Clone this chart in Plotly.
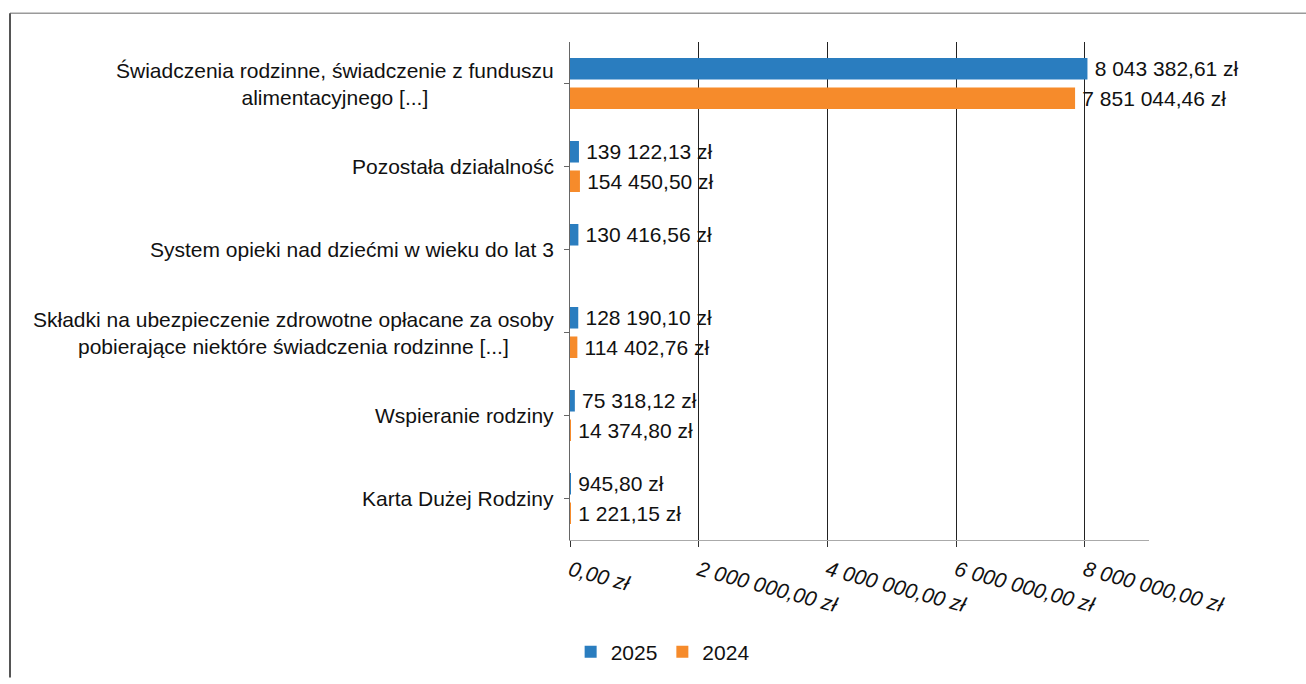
import plotly.graph_objects as go

# Kategorie wydatków (od góry) i kwoty w zł dla dwóch lat
categories = [
    "Świadczenia rodzinne, świadczenie z funduszu<br>alimentacyjnego [...]",
    "Pozostała działalność",
    "System opieki nad dziećmi w wieku do lat 3",
    "Składki na ubezpieczenie zdrowotne opłacane za osoby<br>pobierające niektóre świadczenia rodzinne [...]",
    "Wspieranie rodziny",
    "Karta Dużej Rodziny",
]
values_2025 = [8043382.61, 139122.13, 130416.56, 128190.10, 75318.12, 945.80]
values_2024 = [7851044.46, 154450.50, None, 114402.76, 14374.80, 1221.15]

tick_values = [0, 2000000, 4000000, 6000000, 8000000]
tick_labels = ["0,00 zł", "2 000 000,00 zł", "4 000 000,00 zł", "6 000 000,00 zł", "8 000 000,00 zł"]

FONT = "Liberation Sans, Arial, sans-serif"
FS = 21
BLUE = "#2a7dbf"
ORANGE = "#f68b2b"


def fmt_pln(v):
    if v is None:
        return ""
    s = f"{v:,.2f}".replace(",", " ").replace(".", ",")
    return "\u2009" + s + " zł"


cat_ids = list(range(len(categories)))

fig = go.Figure()
for name, vals, color in [("2025", values_2025, BLUE), ("2024", values_2024, ORANGE)]:
    fig.add_trace(go.Bar(
        y=cat_ids, x=vals, name=name, orientation="h",
        marker=dict(color=color, line=dict(width=0)),
        text=[fmt_pln(v) for v in vals],
        textposition="outside", cliponaxis=False, constraintext="none",
        textfont=dict(family=FONT, size=FS, color="#111"),
        hoverinfo="skip",
    ))

# Etykiety kategorii: wyśrodkowane wiersze, blok wyrównany do osi
for i, label in enumerate(categories):
    fig.add_annotation(
        x=0, xref="paper", xshift=-14, xanchor="right",
        y=i, yref="y", yanchor="middle",
        text=label, align="center", showarrow=False,
        font=dict(family=FONT, size=FS, color="#111"),
    )

# Ramka wokół wykresu (górna i lewa krawędź)
L, R, T, B = 570, 1149, 42, 545


def px_x(p):
    return (p - L) / (R - L)


def px_y(p):
    return (B - p) / (B - T)


fig.add_shape(type="line", xref="paper", yref="paper",
              x0=px_x(10), x1=px_x(1306), y0=px_y(13), y1=px_y(13),
              line=dict(color="#9a9a9a", width=1.5))
fig.add_shape(type="line", xref="paper", yref="paper",
              x0=px_x(10), x1=px_x(10), y0=px_y(13), y1=px_y(684),
              line=dict(color="#555", width=2))

fig.update_layout(
    width=1306, height=684,
    margin=dict(l=L, r=1306 - R, t=T, b=684 - B, pad=0),
    paper_bgcolor="white", plot_bgcolor="white",
    barmode="group", bargap=0.29, bargroupgap=0.27,
    font=dict(family=FONT, size=FS, color="#111"),
    showlegend=True,
    legend=dict(
        orientation="h", x=0.16, xanchor="center", y=-0.225, yanchor="middle",
        font=dict(family=FONT, size=FS, color="#111"),
        itemwidth=30, tracegroupgap=0,
    ),
)

fig.update_xaxes(
    range=[0, 9000000],
    tickvals=tick_values, ticktext=tick_labels, tickangle=15,
    tickfont=dict(family=FONT, size=FS, color="#111", style="italic"),
    ticks="outside", ticklen=6, tickcolor="#333",
    showgrid=True, gridcolor="#222", gridwidth=1.3,
    showline=True, linecolor="#aaa", linewidth=1.3,
    zeroline=False, ticklabelstandoff=3,
)
fig.update_yaxes(
    range=[len(categories) - 0.5, -0.5],
    tickvals=cat_ids, showticklabels=False,
    ticks="outside", ticklen=5, tickcolor="#666", tickson="boundaries",
    showgrid=False, showline=True, linecolor="#666", linewidth=1.3,
    zeroline=False,
)

fig.write_html("out.html")
